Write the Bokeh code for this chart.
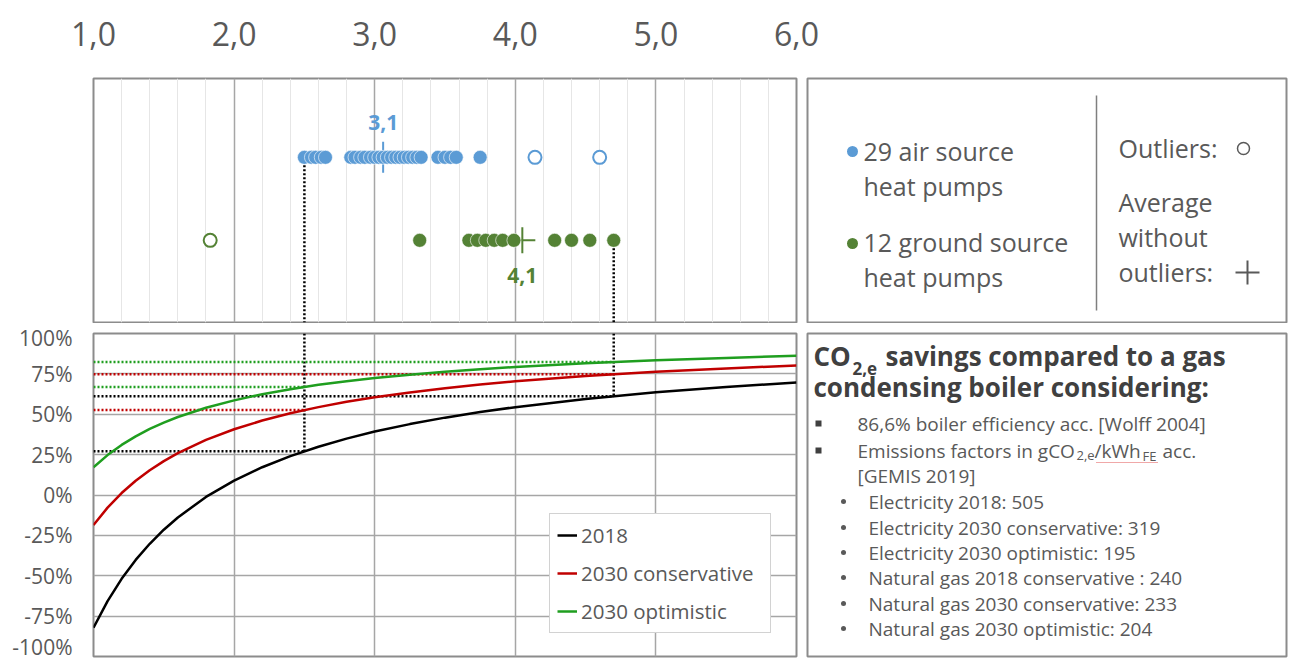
from bokeh.plotting import figure
from bokeh.models import Range1d, FixedTicker, Legend, LegendItem
from bokeh.layouts import column, row
from bokeh.core.properties import value
from bokeh.embed import file_html
from bokeh.resources import INLINE

# ---------------- data ----------------
x_ticks = [1, 2, 3, 4, 5, 6]
x_tick_labels = ["1,0", "2,0", "3,0", "4,0", "5,0", "6,0"]
x_minor_ticks = [1.2, 1.4, 1.6, 1.8, 2.2, 2.4, 2.6, 2.8, 3.2, 3.4, 3.6, 3.8,
                 4.2, 4.4, 4.6, 4.8, 5.2, 5.4, 5.6, 5.8]
y_ticks = [-100, -75, -50, -25, 0, 25, 50, 75, 100]
y_tick_labels = ["-100%", "-75%", "-50%", "-25%", "0%", "25%", "50%", "75%", "100%"]

# measured COPs (seasonal performance factors)
air_cop = [2.50, 2.55, 2.58, 2.62, 2.65, 2.83, 2.86, 2.90, 2.93, 2.97, 3.00, 3.03,
           3.06, 3.09, 3.12, 3.15, 3.18, 3.21, 3.24, 3.27, 3.30, 3.33, 3.45, 3.50,
           3.54, 3.58, 3.75]
air_outliers = [4.14, 4.60]
air_average = 3.06
air_average_label = "3,1"

ground_cop = [3.32, 3.67, 3.73, 3.79, 3.85, 3.91, 3.99, 4.28, 4.40, 4.53, 4.70]
ground_outliers = [1.83]
ground_average = 4.05
ground_average_label = "4,1"

# CO2,e savings curves (%) versus COP
cop = [1.0, 1.1, 1.2, 1.3, 1.4, 1.5, 1.6, 1.8, 2.0, 2.2, 2.4, 2.6, 2.8, 3.0,
       3.25, 3.5, 3.75, 4.0, 4.5, 5.0, 5.5, 6.0]
sav_2018 = [-82.2, -65.7, -51.9, -40.2, -30.2, -21.5, -13.9, -1.2, 8.9, 17.2, 24.1,
            29.9, 34.9, 39.3, 43.9, 47.9, 51.4, 54.4, 59.5, 63.6, 66.9, 69.6]
sav_2030_cons = [-18.6, -7.8, 1.2, 8.8, 15.3, 21.0, 25.9, 34.1, 40.7, 46.1, 50.6,
                 54.4, 57.7, 60.5, 63.5, 66.1, 68.4, 70.4, 73.7, 76.3, 78.4, 80.2]
sav_2030_opt = [17.2, 24.7, 31.0, 36.3, 40.9, 44.8, 48.3, 54.0, 58.6, 62.4, 65.5,
                68.2, 70.4, 72.4, 74.5, 76.3, 77.9, 79.3, 81.6, 83.4, 84.9, 86.2]
series_names = ["2018", "2030 conservative", "2030 optimistic"]

# read-off markers (min air COP and max ground COP)
mark_cop = [2.5, 4.7]
mark_row = [2, 1]
mark_2018 = [27.1, 61.2]
mark_cons = [52.6, 74.8]
mark_opt = [66.9, 82.4]

# ---------------- styling ----------------
FONT = value("Open Sans")
GRAY_TXT = "#595959"
DARK_TXT = "#404040"
FRAME = "#8c8c8c"
GRID = "#a6a6a6"
BLUE = "#5B9BD5"
GREEN = "#548235"
C2018 = "#000000"
CCONS = "#c00000"
COPT = "#1f9e1f"

x_rng = Range1d(1, 6)


def fig(**kw):
    p = figure(output_backend="svg", toolbar_location=None, **kw)
    p.background_fill_color = "white"
    p.border_fill_color = "white"
    return p


# ---------- axis strip on top ----------
axf = fig(width=1288, height=77, x_range=x_rng, y_range=Range1d(0, 1),
          y_axis_location=None, x_axis_location="below",
          min_border_left=93, min_border_right=492, min_border_top=0,
          min_border_bottom=56, outline_line_color=None)
axf.grid.visible = False
ax = axf.xaxis[0]
ax.ticker = FixedTicker(ticks=x_ticks)
ax.major_label_overrides = dict(zip(x_ticks, x_tick_labels))
ax.axis_line_color = None
ax.major_tick_line_color = None
ax.minor_tick_line_color = None
ax.major_tick_out = 0
ax.major_tick_in = 0
ax.major_label_standoff = 0
ax.major_label_text_font = "Open Sans"
ax.major_label_text_font_size = "32px"
ax.major_label_text_color = GRAY_TXT

# ---------- top-left: strip of measured COPs ----------
top = fig(width=806, height=246, x_range=x_rng, y_range=Range1d(0.01, 2.95),
          x_axis_location=None, y_axis_location=None,
          min_border_left=93, min_border_right=10, min_border_top=1,
          min_border_bottom=1, outline_line_color=FRAME, outline_line_width=2)
top.xgrid.ticker = FixedTicker(ticks=x_ticks, minor_ticks=x_minor_ticks)
top.xgrid.grid_line_color = GRID
top.xgrid.grid_line_width = 1.5
top.xgrid.minor_grid_line_color = "#e6e6e6"
top.xgrid.minor_grid_line_width = 1
top.ygrid.visible = False

top.segment(x0=mark_cop, y0=mark_row, x1=mark_cop, y1=[0.01, 0.01],
            line_color="black", line_width=2.5, line_dash="2 2")
top.scatter([air_average], [2], marker="cross", size=31, line_color=BLUE, line_width=2)
top.scatter([ground_average], [1], marker="cross", size=26, line_color=GREEN, line_width=2)
top.scatter(air_cop, [2] * len(air_cop), size=14, fill_color=BLUE,
            line_color="white", line_alpha=0.6, line_width=1)
top.scatter(ground_cop, [1] * len(ground_cop), size=14, fill_color=GREEN,
            line_color="white", line_alpha=0.6, line_width=1)
top.scatter(air_outliers, [2] * len(air_outliers), size=13, fill_color="white",
            line_color=BLUE, line_width=2)
top.scatter(ground_outliers, [1] * len(ground_outliers), size=13, fill_color="white",
            line_color=GREEN, line_width=2)
top.text([air_average], [2], text=[air_average_label], text_font=FONT,
         text_font_style="bold", text_font_size="21px", text_color=BLUE,
         text_align="center", text_baseline="middle", y_offset=-35)
top.text([ground_average], [1], text=[ground_average_label], text_font=FONT,
         text_font_style="bold", text_font_size="21px", text_color=GREEN,
         text_align="center", text_baseline="middle", y_offset=35)

# ---------- bottom-left: savings curves ----------
bot = fig(width=806, height=337, x_range=x_rng, y_range=Range1d(-100, 100),
          x_axis_location=None, min_border_left=93, min_border_right=10,
          min_border_top=10, min_border_bottom=4,
          outline_line_color=FRAME, outline_line_width=2)
ya = bot.yaxis[0]
ya.ticker = FixedTicker(ticks=y_ticks)
ya.major_label_overrides = dict(zip(y_ticks, y_tick_labels))
ya.axis_line_color = None
ya.major_tick_line_color = None
ya.minor_tick_line_color = None
ya.major_tick_out = 0
ya.major_tick_in = 0
ya.major_label_standoff = 21
ya.major_label_text_font = "Open Sans"
ya.major_label_text_font_size = "21px"
ya.major_label_text_color = GRAY_TXT
bot.xgrid.ticker = FixedTicker(ticks=x_ticks)
bot.xgrid.grid_line_color = GRID
bot.xgrid.grid_line_width = 1.5
bot.ygrid.grid_line_color = GRID
bot.ygrid.grid_line_width = 1.5

# dotted read-off lines
bot.segment(x0=mark_cop, y0=[100, 100], x1=mark_cop, y1=mark_2018,
            line_color="black", line_width=2.5, line_dash="2 2")
bot.segment(x0=[1, 1], y0=mark_2018, x1=mark_cop, y1=mark_2018,
            line_color="black", line_width=2.5, line_dash="2 2")
bot.segment(x0=[1, 1], y0=mark_cons, x1=mark_cop, y1=mark_cons,
            line_color=CCONS, line_width=2.5, line_dash="2 2")
bot.segment(x0=[1, 1], y0=mark_opt, x1=mark_cop, y1=mark_opt,
            line_color=COPT, line_width=2.5, line_dash="2 2")

r1 = bot.line(cop, sav_2018, line_color=C2018, line_width=2.5)
r2 = bot.line(cop, sav_2030_cons, line_color=CCONS, line_width=2.5)
r3 = bot.line(cop, sav_2030_opt, line_color=COPT, line_width=2.5)

legend = Legend(items=[LegendItem(label=series_names[0], renderers=[r1]),
                       LegendItem(label=series_names[1], renderers=[r2]),
                       LegendItem(label=series_names[2], renderers=[r3])],
                location=(456, 23), label_text_font="Open Sans",
                label_text_font_size="20.5px", label_text_color=GRAY_TXT,
                glyph_width=20, glyph_height=22, label_height=22, label_width=182,
                spacing=10, padding=7, label_standoff=4, margin=0,
                border_line_color=GRID, border_line_width=1.5,
                background_fill_color="white", background_fill_alpha=1)
bot.add_layout(legend)

# ---------- top-right: legend box ----------
lg = fig(width=482, height=246, x_range=Range1d(0, 479), y_range=Range1d(244, 0),
         x_axis_location=None, y_axis_location=None,
         min_border_left=1, min_border_right=2, min_border_top=1, min_border_bottom=1,
         outline_line_color=FRAME, outline_line_width=2)
lg.grid.visible = False
lg.scatter([45], [73], size=11, fill_color=BLUE, line_color=None)
lg.scatter([45], [165], size=11, fill_color=GREEN, line_color=None)
lg.text([56, 56, 56, 56], [72, 107, 163, 198],
        text=["29 air source", "heat pumps", "12 ground source", "heat pumps"],
        text_font=FONT, text_font_size="25px", text_color=GRAY_TXT,
        text_baseline="middle", text_align="left")
lg.segment(x0=[289], y0=[17], x1=[289], y1=[232], line_color="#7f7f7f", line_width=1.5)
lg.text([311, 311, 311, 311], [69, 123, 158, 193],
        text=["Outliers:", "Average", "without", "outliers:"],
        text_font=FONT, text_font_size="25px", text_color=GRAY_TXT,
        text_baseline="middle", text_align="left")
lg.scatter([436], [70], size=12, fill_color="white", line_color=GRAY_TXT, line_width=1.5)
lg.scatter([440], [194], marker="cross", size=24, line_color=GRAY_TXT, line_width=2)

# ---------- bottom-right: text box ----------
tb = fig(width=482, height=337, x_range=Range1d(0, 479), y_range=Range1d(323, 0),
         x_axis_location=None, y_axis_location=None,
         min_border_left=1, min_border_right=2, min_border_top=10, min_border_bottom=4,
         outline_line_color=FRAME, outline_line_width=2)
tb.grid.visible = False
bold = dict(text_font=FONT, text_font_style="bold", text_color=DARK_TXT,
            text_baseline="middle", text_align="left")
tb.text([6], [22], text=["CO"], text_font_size="26px", **bold)
tb.text([45], [35], text=["2,e"], text_font_size="17px", **bold)
tb.text([78], [22], text=["savings compared to a gas"], text_font_size="26px", **bold)
tb.text([6], [53], text=["condensing boiler considering:"], text_font_size="26px", **bold)

reg = dict(text_font=FONT, text_color=GRAY_TXT, text_baseline="middle", text_align="left")
tb.scatter([11, 11], [90, 117], marker="square", size=6, fill_color=DARK_TXT, line_color=None)
tb.text([50], [90], text=["86,6% boiler efficiency acc. [Wolff 2004]"], text_font_size="19px", **reg)
tb.text([50], [117], text=["Emissions factors in gCO"], text_font_size="19px", **reg)
tb.text([269], [122], text=["2,e"], text_font_size="13px", **reg)
tb.text([287], [117], text=["/kWh"], text_font_size="19px", **reg)
tb.text([335], [122], text=["FE"], text_font_size="13px", **reg)
tb.text([355], [117], text=["acc."], text_font_size="19px", **reg)
tb.segment(x0=[289], y0=[129], x1=[351], y1=[129], line_color="#e05050",
           line_width=1.2, line_dash="1 1")
tb.text([50], [142], text=["[GEMIS 2019]"], text_font_size="19px", **reg)

factor_lines = ["Electricity 2018: 505",
                "Electricity 2030 conservative: 319",
                "Electricity 2030 optimistic: 195",
                "Natural gas 2018 conservative : 240",
                "Natural gas 2030 conservative: 233",
                "Natural gas 2030 optimistic: 204"]
factor_y = [168, 194, 219, 244, 270, 295]
tb.scatter([36] * len(factor_y), factor_y, size=5, fill_color=GRAY_TXT, line_color=None)
tb.text([61] * len(factor_y), factor_y, text=factor_lines, text_font_size="19px", **reg)

layout = column(axf, row(top, lg), row(bot, tb))

with open("out.html", "w") as f:
    f.write(file_html(layout, INLINE))
